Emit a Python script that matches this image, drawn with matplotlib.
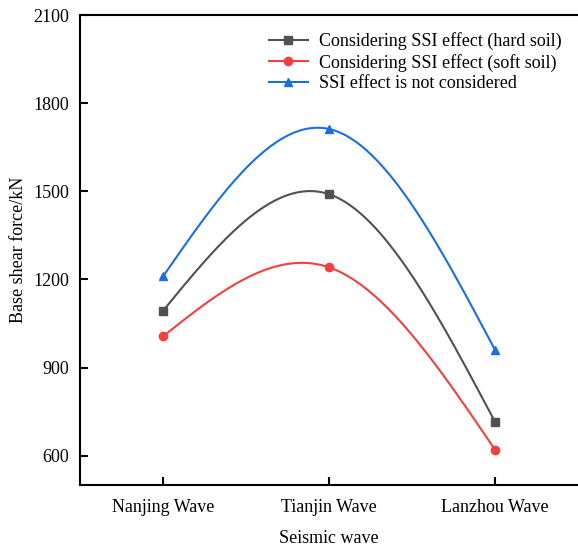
import numpy as np
import matplotlib
matplotlib.use('Agg')
import matplotlib.pyplot as plt

plt.rcParams['font.family'] = ['Liberation Serif', 'DejaVu Serif']

waves = ['Nanjing Wave', 'Tianjin Wave', 'Lanzhou Wave']
hard_soil = [1093, 1490, 715]
soft_soil = [1006, 1241, 620]
no_ssi = [1210, 1712, 960]

labels = ['Considering SSI effect (hard soil)',
          'Considering SSI effect (soft soil)',
          'SSI effect is not considered']
colors = ['#515151', '#F14040', '#1A6FDF']
markers = ['s', 'o', '^']


def natural_spline(x, y, n=200):
    # natural cubic spline, just for the smooth connecting line
    x = np.asarray(x, float)
    y = np.asarray(y, float)
    k = len(x)
    h = np.diff(x)
    A = np.zeros((k, k))
    r = np.zeros(k)
    A[0, 0] = A[-1, -1] = 1
    for i in range(1, k - 1):
        A[i, i - 1] = h[i - 1]
        A[i, i] = 2 * (h[i - 1] + h[i])
        A[i, i + 1] = h[i]
        r[i] = 6 * ((y[i + 1] - y[i]) / h[i] - (y[i] - y[i - 1]) / h[i - 1])
    M = np.linalg.solve(A, r)
    xs = np.linspace(x[0], x[-1], n)
    ys = np.empty_like(xs)
    for j, xv in enumerate(xs):
        i = min(np.searchsorted(x, xv, side='right') - 1, k - 2)
        t1 = x[i + 1] - xv
        t0 = xv - x[i]
        ys[j] = (M[i] * t1 ** 3 + M[i + 1] * t0 ** 3) / (6 * h[i]) \
            + (y[i] / h[i] - M[i] * h[i] / 6) * t1 \
            + (y[i + 1] / h[i] - M[i + 1] * h[i] / 6) * t0
    return xs, ys


fig = plt.figure(figsize=(5.78, 5.5), dpi=100)
ax = fig.add_axes([80 / 578, 65 / 550, 498 / 578, 470 / 550])

xpos = np.arange(len(waves))
for vals, lab, c, m in zip([hard_soil, soft_soil, no_ssi], labels, colors, markers):
    xs, ys = natural_spline(xpos, vals)
    ax.plot(xs, ys, color=c, lw=1.5)
    ax.plot(xpos, vals, ls='none', marker=m, color=c, ms=6)
    ax.plot([], [], color=c, marker=m, ms=6, lw=1.5, label=lab)

ax.set_xlim(-0.5, 2.5)
ax.set_ylim(500, 2100)
ax.set_xticks(xpos)
ax.set_xticklabels(waves)
ax.set_yticks([600, 900, 1200, 1500, 1800, 2100])
ax.tick_params(direction='in', length=6, width=1.5, labelsize=13, pad=10)
ax.tick_params(axis='y', pad=8)
for s in ['left', 'bottom', 'top']:
    ax.spines[s].set_linewidth(1.5)
ax.spines['right'].set_visible(False)

ax.set_xlabel('Seismic wave', fontsize=13, labelpad=10)
ax.set_ylabel('Base shear force/kN', fontsize=13, labelpad=4)

ax.legend(loc='upper right', bbox_to_anchor=(1.0, 0.998), frameon=False,
          fontsize=13, handlelength=2.2, labelspacing=0.2, handletextpad=0.6)

fig.savefig('out.png', dpi=100)
